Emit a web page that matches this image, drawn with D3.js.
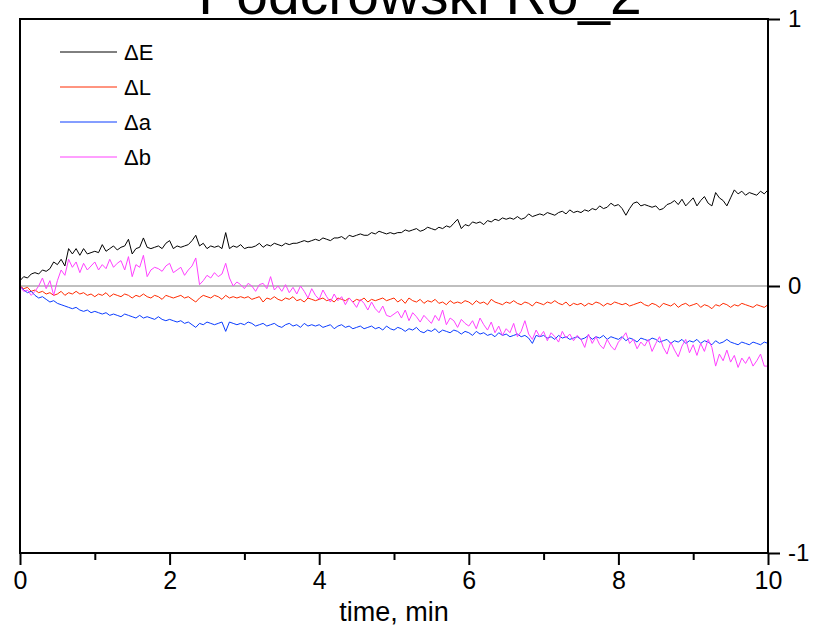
<!DOCTYPE html>
<html>
<head>
<meta charset="utf-8">
<script src="https://cdn.jsdelivr.net/npm/d3@7"></script>
<style>
  body { margin: 0; background: #fff; }
  text { font-family: "Liberation Sans", Arial, sans-serif; }
</style>
</head>
<body>
<script>
var canvasWidth = 813;
var canvasHeight = 640;

// sampling: 0 .. 10 min, step 0.05 min
var tStart = 0, tEnd = 10, tStep = 0.05;

var seriesNames = ["\u0394E", "\u0394L", "\u0394a", "\u0394b"];
var seriesColors = ["#000000", "#ff2a00", "#0a3cff", "#ff40ff"];

var dE = [
  0.02, 0.035, 0.03, 0.045, 0.05, 0.045, 0.06, 0.055, 0.065, 0.09,
  0.08, 0.1, 0.075, 0.14, 0.12, 0.14, 0.115, 0.14, 0.12, 0.125,
  0.13, 0.125, 0.155, 0.13, 0.14, 0.15, 0.135, 0.145, 0.15, 0.175,
  0.12, 0.14, 0.145, 0.18, 0.145, 0.14, 0.145, 0.15, 0.14, 0.16,
  0.17, 0.14, 0.15, 0.145, 0.15, 0.155, 0.17, 0.19, 0.15, 0.16,
  0.14, 0.15, 0.145, 0.15, 0.14, 0.2, 0.14, 0.15, 0.145, 0.155,
  0.14, 0.145, 0.145, 0.15, 0.16, 0.145, 0.155, 0.15, 0.16, 0.155,
  0.15, 0.16, 0.155, 0.16, 0.16, 0.165, 0.17, 0.165, 0.17, 0.175,
  0.17, 0.18, 0.175, 0.17, 0.18, 0.18, 0.185, 0.175, 0.19, 0.185,
  0.19, 0.195, 0.19, 0.19, 0.2, 0.195, 0.205, 0.2, 0.195, 0.2,
  0.195, 0.2, 0.2, 0.21, 0.205, 0.21, 0.215, 0.205, 0.21, 0.22,
  0.215, 0.21, 0.22, 0.215, 0.225, 0.22, 0.235, 0.25, 0.215, 0.23,
  0.225, 0.24, 0.235, 0.24, 0.23, 0.245, 0.24, 0.25, 0.245, 0.255,
  0.25, 0.255, 0.25, 0.26, 0.25, 0.255, 0.27, 0.26, 0.265, 0.27,
  0.265, 0.275, 0.27, 0.265, 0.275, 0.28, 0.27, 0.285, 0.275, 0.28,
  0.275, 0.285, 0.28, 0.29, 0.285, 0.3, 0.29, 0.295, 0.31, 0.3,
  0.305, 0.29, 0.265, 0.29, 0.31, 0.315, 0.3, 0.305, 0.3, 0.295,
  0.3, 0.285, 0.29, 0.305, 0.31, 0.32, 0.305, 0.325, 0.3, 0.315,
  0.33, 0.3, 0.32, 0.335, 0.31, 0.3, 0.35, 0.33, 0.32, 0.3,
  0.33, 0.36, 0.345, 0.355, 0.34, 0.35, 0.345, 0.34, 0.355, 0.345,
  0.36
];

var dL = [
  0, -0.01, -0.005, -0.02, -0.015, -0.025, -0.02, -0.03, -0.025, -0.035,
  -0.03, -0.02, -0.035, -0.025, -0.03, -0.02, -0.03, -0.025, -0.035, -0.03,
  -0.04, -0.03, -0.035, -0.025, -0.04, -0.03, -0.035, -0.04, -0.03, -0.035,
  -0.045, -0.035, -0.04, -0.03, -0.04, -0.045, -0.035, -0.04, -0.05, -0.035,
  -0.04, -0.045, -0.04, -0.035, -0.045, -0.04, -0.05, -0.06, -0.045, -0.035,
  -0.04, -0.045, -0.035, -0.04, -0.05, -0.035, -0.045, -0.04, -0.045, -0.04,
  -0.045, -0.04, -0.05, -0.045, -0.04, -0.06, -0.045, -0.05, -0.04, -0.05,
  -0.055, -0.045, -0.05, -0.04, -0.055, -0.05, -0.06, -0.045, -0.05, -0.055,
  -0.05, -0.045, -0.055, -0.05, -0.06, -0.045, -0.05, -0.055, -0.045, -0.06,
  -0.05, -0.055, -0.045, -0.06, -0.05, -0.055, -0.05, -0.045, -0.055, -0.05,
  -0.045, -0.06, -0.05, -0.065, -0.045, -0.055, -0.06, -0.05, -0.065, -0.055,
  -0.06, -0.05, -0.065, -0.06, -0.07, -0.055, -0.065, -0.06, -0.065, -0.055,
  -0.06, -0.07, -0.055, -0.065, -0.06, -0.07, -0.05, -0.06, -0.065, -0.07,
  -0.06, -0.065, -0.055, -0.065, -0.07, -0.06, -0.065, -0.075, -0.06, -0.065,
  -0.07, -0.06, -0.065, -0.055, -0.065, -0.07, -0.06, -0.075, -0.065, -0.07,
  -0.065, -0.075, -0.065, -0.07, -0.06, -0.065, -0.075, -0.065, -0.07, -0.06,
  -0.065, -0.07, -0.065, -0.075, -0.07, -0.065, -0.06, -0.07, -0.075, -0.065,
  -0.07, -0.08, -0.065, -0.07, -0.075, -0.065, -0.08, -0.07, -0.065, -0.075,
  -0.07, -0.065, -0.08, -0.07, -0.075, -0.085, -0.07, -0.075, -0.065, -0.07,
  -0.08, -0.07, -0.075, -0.065, -0.07, -0.075, -0.08, -0.07, -0.075, -0.08,
  -0.07
];

var da = [
  0, -0.015, -0.025, -0.02, -0.035, -0.045, -0.04, -0.05, -0.06, -0.055,
  -0.065, -0.07, -0.075, -0.08, -0.085, -0.08, -0.09, -0.095, -0.09, -0.1,
  -0.095, -0.1, -0.105, -0.1, -0.11, -0.105, -0.11, -0.115, -0.105, -0.11,
  -0.115, -0.12, -0.11, -0.12, -0.115, -0.12, -0.125, -0.115, -0.125, -0.13,
  -0.125, -0.13, -0.135, -0.13, -0.14, -0.135, -0.145, -0.155, -0.14, -0.145,
  -0.135, -0.14, -0.145, -0.14, -0.135, -0.17, -0.135, -0.14, -0.145, -0.14,
  -0.145, -0.135, -0.14, -0.15, -0.145, -0.14, -0.15, -0.145, -0.14, -0.15,
  -0.155, -0.145, -0.14, -0.15, -0.145, -0.155, -0.14, -0.15, -0.145, -0.15,
  -0.145, -0.155, -0.15, -0.145, -0.16, -0.15, -0.145, -0.155, -0.15, -0.16,
  -0.155, -0.15, -0.16, -0.155, -0.15, -0.16, -0.155, -0.165, -0.15, -0.16,
  -0.165, -0.155, -0.16, -0.17, -0.16, -0.165, -0.155, -0.17, -0.175, -0.165,
  -0.17, -0.16, -0.175, -0.165, -0.17, -0.175, -0.165, -0.17, -0.18, -0.17,
  -0.175, -0.185, -0.17, -0.18, -0.175, -0.185, -0.18, -0.19, -0.175, -0.185,
  -0.18, -0.19, -0.185, -0.18, -0.19, -0.185, -0.195, -0.215, -0.185, -0.19,
  -0.185, -0.195, -0.19, -0.2, -0.185, -0.195, -0.19, -0.2, -0.195, -0.19,
  -0.2, -0.195, -0.185, -0.2, -0.19, -0.195, -0.185, -0.2, -0.19, -0.195,
  -0.2, -0.19, -0.205, -0.195, -0.2, -0.21, -0.195, -0.2, -0.205, -0.195,
  -0.2, -0.21, -0.205, -0.2, -0.215, -0.205, -0.21, -0.2, -0.215, -0.205,
  -0.21, -0.2, -0.215, -0.205, -0.21, -0.22, -0.205, -0.215, -0.21, -0.2,
  -0.21, -0.215, -0.22, -0.21, -0.215, -0.22, -0.21, -0.215, -0.22, -0.21,
  -0.215
];

var db = [
  0, -0.02, -0.015, -0.035, -0.02, 0.0, 0.03, -0.01, 0.02, -0.035,
  0.02, 0.06, 0.04, 0.1, 0.07, 0.09, 0.05, 0.085, 0.06, 0.075,
  0.09, 0.06, 0.08, 0.065, 0.1, 0.07, 0.085, 0.095, 0.06, 0.11,
  0.035, 0.08, 0.07, 0.115, 0.035, 0.06, 0.07, 0.065, 0.055, 0.075,
  0.085, 0.05, 0.06, 0.07, 0.04, 0.06, 0.075, 0.105, 0.005, 0.02,
  0.04, 0.03, 0.05, 0.035, 0.045, 0.085, 0.03, 0.0, 0.015, 0.005,
  -0.01, 0.01, 0.0, -0.02, 0.005, 0.01, -0.01, 0.035, -0.015, 0.0,
  -0.02, 0.005, -0.025, -0.005, -0.03, 0.0, -0.02, -0.045, -0.01, -0.035,
  -0.05, -0.015, -0.04, -0.06, -0.03, -0.055, -0.04, -0.07, -0.045, -0.06,
  -0.08, -0.05, -0.065, -0.09, -0.06, -0.085, -0.1, -0.075, -0.11, -0.115,
  -0.105, -0.095, -0.12, -0.09, -0.13, -0.1, -0.115, -0.135, -0.11, -0.125,
  -0.14, -0.11, -0.13, -0.09, -0.145, -0.12, -0.13, -0.155, -0.125, -0.14,
  -0.15, -0.13, -0.16, -0.12, -0.145, -0.165, -0.135, -0.175, -0.15, -0.185,
  -0.16, -0.175, -0.14, -0.19, -0.17, -0.13, -0.18, -0.2, -0.165, -0.19,
  -0.17, -0.205, -0.175, -0.19, -0.21, -0.17, -0.195, -0.18, -0.205, -0.185,
  -0.2, -0.23, -0.18, -0.215, -0.19, -0.22, -0.235, -0.2, -0.225, -0.24,
  -0.21, -0.195, -0.175, -0.215, -0.2, -0.235, -0.21, -0.225, -0.2, -0.245,
  -0.215, -0.19, -0.23, -0.255, -0.21, -0.24, -0.265, -0.225, -0.2, -0.25,
  -0.22, -0.26, -0.215, -0.245, -0.2, -0.23, -0.3, -0.255, -0.28, -0.24,
  -0.285, -0.26, -0.305, -0.27, -0.29, -0.265, -0.3, -0.28, -0.255, -0.3,
  -0.3
];

var xTicksMajor = [0, 2, 4, 6, 8, 10];
var xTicksMinor = [1, 3, 5, 7, 9];
var yTicks = [-1, 0, 1];

var times = d3.range(dE.length).map(i => tStart + i * tStep);
var allSeries = [dE, dL, da, db];

var margin = { top: 19, right: 45, bottom: 87, left: 20 };
var width = canvasWidth - margin.left - margin.right;
var height = canvasHeight - margin.top - margin.bottom;

var svg = d3.select("body").append("svg")
    .attr("width", canvasWidth)
    .attr("height", canvasHeight);

// title, cut off at the top edge like the original
svg.append("text")
    .attr("x", 420)
    .attr("y", 14)
    .attr("text-anchor", "middle")
    .attr("font-size", "57px")
    .text("Podcrowski Ro_2");

var g = svg.append("g")
    .attr("transform", "translate(" + margin.left + "," + margin.top + ")");

var xScale = d3.scaleLinear().domain([tStart, tEnd]).range([0, width]);
var yScale = d3.scaleLinear().domain([-1, 1]).range([height, 0]);

// zero line
g.append("line")
    .attr("x1", 0).attr("x2", width)
    .attr("y1", yScale(0)).attr("y2", yScale(0))
    .attr("stroke", "#808080")
    .attr("stroke-width", 1.2);

var line = d3.line()
    .x((d, i) => xScale(times[i]))
    .y(d => yScale(d));

allSeries.forEach(function(s, k) {
    g.append("path")
        .datum(s)
        .attr("d", line)
        .attr("fill", "none")
        .attr("stroke", seriesColors[k])
        .attr("stroke-width", 1)
        .attr("stroke-linejoin", "round");
});

// frame
g.append("rect")
    .attr("x", 0).attr("y", 0)
    .attr("width", width).attr("height", height)
    .attr("fill", "none")
    .attr("stroke", "#000")
    .attr("stroke-width", 2);

var plainNum = d => String(d);

// x axis
var xMinor = g.append("g")
    .attr("transform", "translate(0," + height + ")")
    .call(d3.axisBottom(xScale).tickValues(xTicksMinor).tickSize(7).tickFormat(""));
var xMajor = g.append("g")
    .attr("transform", "translate(0," + height + ")")
    .call(d3.axisBottom(xScale).tickValues(xTicksMajor).tickSize(12).tickPadding(6).tickFormat(plainNum));
[xMinor, xMajor].forEach(function(a) {
    a.select(".domain").remove();
    a.selectAll("line").attr("stroke-width", 2);
});
xMajor.selectAll("text")
    .attr("font-size", "25px")
    .attr("font-family", "Liberation Sans, Arial, sans-serif")
    .attr("fill", "#000");

// y axis on the right
var yAxis = g.append("g")
    .attr("transform", "translate(" + width + ",0)")
    .call(d3.axisRight(yScale).tickValues(yTicks).tickSize(12).tickPadding(8).tickFormat(plainNum));
yAxis.select(".domain").remove();
yAxis.selectAll("line").attr("stroke-width", 2);
yAxis.selectAll("text")
    .attr("font-size", "24px")
    .attr("font-family", "Liberation Sans, Arial, sans-serif")
    .attr("fill", "#000");

// x axis title
g.append("text")
    .attr("x", width / 2)
    .attr("y", height + 68)
    .attr("text-anchor", "middle")
    .attr("font-size", "27px")
    .text("time, min");

// legend
var legend = g.append("g").attr("transform", "translate(40,33)");
seriesNames.forEach(function(name, k) {
    var row = legend.append("g").attr("transform", "translate(0," + (k * 35) + ")");
    row.append("line")
        .attr("x1", 0).attr("x2", 57)
        .attr("y1", 0).attr("y2", 0)
        .attr("stroke", seriesColors[k])
        .attr("stroke-width", 1);
    row.append("text")
        .attr("x", 64)
        .attr("y", 7.5)
        .attr("font-size", "22px")
        .text(name);
});
</script>
</body>
</html>
